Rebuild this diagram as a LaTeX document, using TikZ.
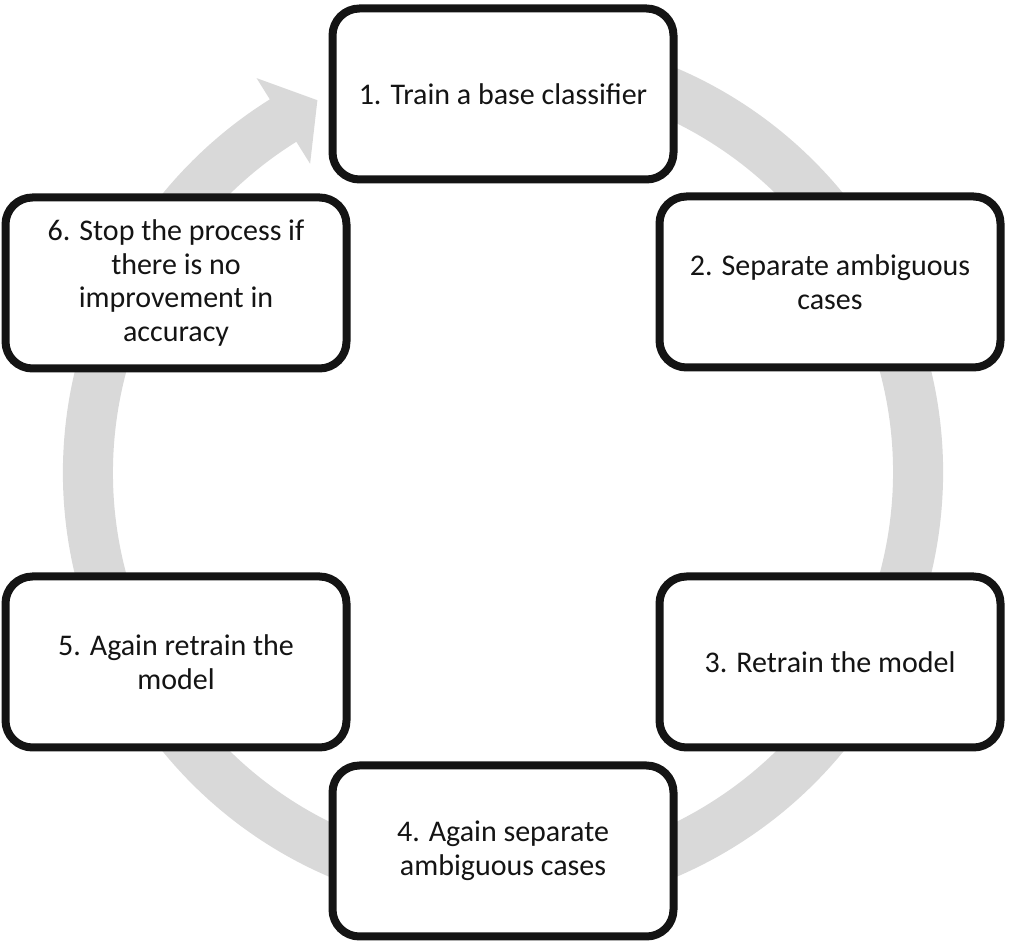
\documentclass[tikz,border=0pt]{standalone}
\usepackage{fontspec}
\setmainfont{Carlito}
\usetikzlibrary{calc}
\definecolor{mainBlack}{gray}{0.08}
\definecolor{ringGray}{gray}{0.85}

\tikzset{
  stepbox/.style={draw=mainBlack, line width=8pt, rounded corners=27pt, fill=white,
    minimum width=341pt, minimum height=171pt, inner sep=0pt, align=center,
    text=mainBlack, font=\fontsize{30}{33.5}\selectfont}
}

\begin{document}
\begin{tikzpicture}[x=1pt, y=1pt]
    \useasboundingbox (0,0) rectangle (1009,942);
    \coordinate (C) at (503,469.5);

    % Ring with arrow head
    \fill[ringGray] ($(C)+(75:440pt)$) arc[start angle=75, end angle=-238, radius=440pt]
        -- ($(C)+(122:465pt)$) -- ($(C)+(116.5:416pt)$) -- ($(C)+(122:364pt)$)
        -- ($(C)+(122:390pt)$) arc[start angle=-238, end angle=75, radius=390pt] -- cycle;

    % Steps
    \node[stepbox] (train) at (503,848) {1. Train a base classifier};
    \node[stepbox] (separate) at (830,660) {2. Separate ambiguous\\cases};
    \node[stepbox] (retrain) at (830,280) {3. Retrain the model};
    \node[stepbox] (againsep) at (503,91) {4. Again separate\\ambiguous cases};
    \node[stepbox] (againret) at (176,280) {5. Again retrain the\\model};
    \node[stepbox] (stop) at (176,659) {6. Stop the process if\\there is no\\improvement in\\accuracy};
\end{tikzpicture}
\end{document}
